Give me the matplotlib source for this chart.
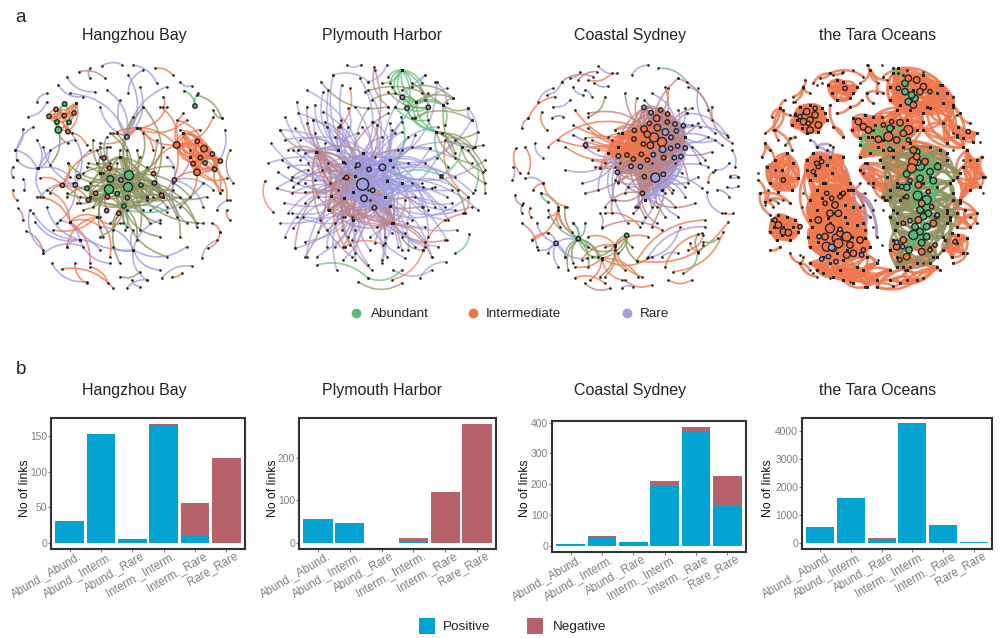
""" Two panel figure: co-occurrence networks (a) and link counts per sub-community pair (b).
    Network coordinates are read off the picture, in units of 1/3 pixel inside each 250 px panel.
"""
from itertools import combinations

import matplotlib
matplotlib.use('Agg')
import matplotlib.pyplot as plt
from matplotlib.patches import FancyArrowPatch
from matplotlib.transforms import ScaledTranslation

plt.rcParams['font.family'] = ['Liberation Sans', 'DejaVu Sans']

# ======================================================================================================================
sites = ['Hangzhou Bay', 'Plymouth Harbor', 'Coastal Sydney', 'the Tara Oceans']
pairs = ['Abund._Abund.', 'Abund._Interm.', 'Abund._Rare', 'Interm._Interm.', 'Interm._Rare', 'Rare_Rare']

hz_positive = [31, 152, 5, 165, 11, 0]
hz_negative = [0, 0, 0, 2, 45, 119]
pl_positive = [55, 45, 1, 4, 0, 0]
pl_negative = [2, 2, 0, 8, 119, 280]
cs_positive = [4, 28, 12, 193, 374, 130]
cs_negative = [1, 3, 0, 18, 12, 95]
ta_positive = [570, 1600, 160, 4270, 640, 30]
ta_negative = [0, 0, 10, 0, 0, 0]

# links: (kind, start, [ends]); kinds: aa, ai, ar, ii, ir, rr
# modules: (kind, [nodes]), groups of nodes that are all linked to each other
hz_links = [
    ('rr', (305, 48), [(365, 44)]), ('rr', (200, 80), [(285, 125)]), ('ir', (237, 65), [(315, 85)]),
    ('ir', (270, 55), [(270, 85)]), ('rr', (400, 45), [(470, 100)]), ('rr', (430, 60), [(385, 130)]),
    ('ii', (465, 55), [(518, 75)]), ('rr', (540, 97), [(575, 108)]), ('ir', (490, 140), [(490, 170)]),
    ('rr', (175, 105), [(250, 140)]), ('rr', (110, 155), [(140, 130)]), ('rr', (85, 200), [(140, 155)]),
    ('rr', (68, 238), [(45, 300)]), ('rr', (100, 230), [(50, 330)]), ('rr', (45, 300), [(110, 355)]),
    ('ir', (40, 350), [(38, 380)]), ('rr', (70, 388), [(72, 420)]), ('ii', (40, 420), [(50, 450)]),
    ('ir', (55, 475), [(68, 510)]), ('rr', (90, 480), [(130, 600)]), ('ir', (78, 543), [(130, 610)]),
    ('rr', (105, 515), [(240, 570)]), ('rr', (130, 610), [(250, 590)]), ('rr', (155, 640), [(260, 695)]),
    ('ii', (185, 657), [(340, 715)]), ('ii', (225, 640), [(260, 700)]), ('ii', (270, 650), [(325, 700)]),
    ('ai', (360, 680), [(420, 665)]), ('rr', (380, 715), [(440, 690)]), ('rr', (395, 690), [(420, 710)]),
    ('rr', (485, 685), [(575, 648)]), ('ii', (515, 680), [(545, 670)]), ('rr', (605, 625), [(650, 570)]),
    ('ii', (625, 595), [(660, 545)]), ('ii', (635, 520), [(660, 545)]), ('ii', (680, 480), [(690, 510)]),
    ('rr', (650, 480), [(690, 450)]), ('ir', (690, 300), [(700, 400)]), ('rr', (675, 240), [(640, 350)]),
    ('ai', (640, 180), [(665, 205)]), ('ai', (590, 135), [(665, 205)]), ('aa', (585, 168), [(552, 122), (595, 130)]),
    ('rr', (381, 261), [(385, 75), (360, 150), (420, 110), (300, 170), (210, 130), (500, 110), (320, 120)]),
    ('rr', (400, 600), [(480, 510), (300, 530), (210, 515), (440, 690), (340, 590), (560, 590), (400, 540), (480, 660)]),
    ('rr', (115, 355), [(50, 330), (130, 440), (210, 380), (110, 270), (225, 270), (150, 300)]),
    ('rr', (240, 570), [(140, 470), (200, 590), (300, 600), (180, 510), (100, 490), (330, 640)]),
    ('rr', (523, 390), [(610, 470), (560, 520), (640, 420), (500, 320), (450, 480), (570, 300)]),
    ('rr', (226, 405), [(130, 290), (120, 440), (170, 520), (215, 250), (270, 300)]),
    ('ii', (187, 406), [(150, 430), (330, 290), (120, 385), (240, 460), (205, 340), (265, 450)]),
    ('ii', (290, 500), [(200, 590), (330, 620), (210, 515), (160, 540), (360, 520)]),
    ('ii', (410, 235), [(340, 250), (500, 170), (300, 280), (560, 210), (460, 300)]),
    ('ii', (210, 515), [(140, 420), (300, 530), (110, 440), (270, 640)]),
    ('ii', (530, 285), [(480, 170), (420, 235), (350, 245), (550, 190), (460, 371), (600, 240), (640, 200), (485, 436)]),
    ('ii', (612, 296), [(540, 240), (660, 430), (530, 210)]),
    ('ii', (591, 367), [(660, 430), (520, 400), (540, 470), (680, 385)]),
    ('ii', (644, 358), [(680, 450), (665, 420)]),
    ('ii', (204, 245), [(260, 285)]),
    ('aa', (194, 162), [(171, 216), (207, 217), (175, 240)]),
    ('ai', (171, 216), [(147, 199), (222, 189), (193, 197), (204, 245)]),
    ('ai', (175, 240), [(168, 178), (229, 160), (150, 345), (205, 280)]),
    ('ai', (384, 411), [(300, 370), (290, 340), (320, 290), (350, 250), (430, 170), (470, 270), (520, 350), (540, 440),
                        (500, 470), (480, 520), (420, 540), (380, 530), (330, 520), (280, 470), (240, 440), (270, 400),
                        (590, 520), (440, 350), (460, 440), (430, 480), (300, 290), (410, 300)]),
    ('ai', (387, 376), [(290, 300), (330, 250), (400, 200), (490, 290), (570, 440), (610, 520), (530, 500), (440, 450),
                        (310, 370), (250, 370), (360, 300), (430, 250)]),
    ('ai', (327, 418), [(220, 400), (260, 350), (300, 320), (380, 300), (250, 480), (310, 560), (370, 520), (287, 430),
                        (265, 450), (322, 482), (356, 490), (200, 440), (230, 460), (300, 500)]),
    ('ai', (331, 387), [(236, 380), (265, 340), (280, 270), (350, 340), (312, 324), (420, 320), (205, 340)]),
    ('ai', (372, 468), [(480, 560), (410, 570), (360, 640), (300, 560), (340, 540), (450, 520), (500, 620)]),
    ('ai', (463, 399), [(480, 430), (620, 440), (590, 530), (520, 420), (540, 560), (430, 170)]),
    ('aa', (327, 418), [(384, 411), (261, 415), (200, 430), (352, 431), (331, 387)]),
    ('aa', (387, 376), [(331, 387), (384, 411), (423, 405)]),
    ('aa', (372, 468), [(384, 411), (382, 443), (375, 540)]),
    ('ar', (380, 480), [(610, 400), (500, 485)]),
    ('ar', (320, 260), [(330, 340)]),
]
hz_modules = [
    ('ii', [(530, 285), (612, 296), (592, 274), (601, 323), (579, 341), (591, 367), (637, 312), (661, 333), (644, 358),
            (550, 250), (570, 320)]),
    ('ii', [(168, 178), (147, 199), (193, 197), (222, 189), (204, 245), (229, 160)]),
    ('ai', [(384, 411), (387, 376), (327, 418), (331, 387), (372, 468), (423, 405), (463, 399), (300, 370), (440, 440),
            (490, 440), (360, 320), (270, 440)]),
]
hz_hubs = {
    'a': [(387, 376, 3), (384, 411, 3), (327, 418, 3), (331, 387, 2), (372, 468, 1), (261, 415, 1), (352, 431, 1),
          (423, 405, 1), (463, 399, 1), (382, 443, 1), (585, 168, 1), (194, 162, 1), (171, 216, 1), (207, 217, 1),
          (175, 240, 2), (615, 339, 1)],
    'i': [(168, 178, 1), (147, 199, 1), (193, 197, 1), (222, 189, 1), (204, 245, 1), (530, 285, 2), (612, 296, 2),
          (592, 274, 1), (601, 323, 1), (579, 341, 1), (591, 367, 2), (637, 312, 1), (661, 333, 1), (644, 358, 1),
          (328, 354, 1), (236, 380, 1), (187, 406, 1), (287, 430, 1), (265, 450, 1), (322, 440, 1), (320, 482, 1),
          (356, 490, 1), (461, 371, 1), (485, 436, 1), (312, 324, 1)],
    'r': [(363, 390, 1), (381, 261, 1), (226, 405, 1), (523, 390, 1)],
}

pl_links = [
    ('rr', (323, 403), [(125, 155), (155, 120), (220, 120), (300, 170), (340, 175), (405, 220), (470, 290), (525, 295),
                        (600, 380), (650, 470), (670, 480), (605, 540), (575, 570), (550, 590), (530, 622), (450, 625),
                        (380, 630), (340, 645), (290, 570), (245, 660), (185, 620), (155, 620), (120, 595), (90, 560),
                        (75, 520), (100, 490), (88, 458), (65, 415), (68, 365), (38, 340), (48, 280), (75, 240),
                        (90, 200), (130, 190), (180, 250), (240, 260), (258, 210), (360, 320), (460, 340), (410, 240)]),
    ('rr', (327, 445), [(175, 210), (205, 185), (280, 230), (350, 215), (440, 245), (545, 325), (575, 440), (510, 530),
                        (430, 590), (345, 600), (265, 630), (215, 590), (150, 575), (115, 535), (145, 500), (110, 430)]),
    ('rr', (382, 352), [(510, 75), (545, 95), (575, 115), (650, 210), (660, 290), (690, 330), (655, 430), (600, 480),
                        (520, 480), (470, 510), (390, 580), (300, 540), (190, 440), (135, 270), (115, 300), (220, 340)]),
    ('rr', (342, 358), [(260, 105), (340, 120), (420, 250), (500, 400), (580, 510), (410, 550), (260, 540), (130, 400),
                        (80, 330), (150, 310), (215, 230), (320, 230)]),
    ('rr', (358, 473), [(505, 410), (640, 440), (570, 470), (450, 550), (380, 640), (300, 610), (222, 480), (190, 545),
                        (125, 500), (240, 520)]),
    ('rr', (309, 345), [(235, 75), (315, 85), (380, 260), (460, 260), (600, 325), (530, 415), (270, 500), (180, 390),
                        (110, 380), (90, 270)]),
    ('rr', (405, 330), [(550, 230), (600, 270), (525, 295), (590, 420), (505, 470), (440, 300), (510, 340), (470, 400),
                        (560, 380), (480, 255), (440, 215), (355, 215)]),
    ('rr', (293, 425), [(160, 340), (130, 300), (110, 490), (150, 460), (200, 360), (195, 510), (240, 590), (265, 500),
                        (210, 280), (100, 350), (150, 400)]),
    ('rr', (440, 400), [(540, 410), (610, 420), (570, 510), (520, 560), (480, 590), (455, 520), (590, 460), (540, 470)]),
    ('rr', (405, 468), [(300, 630), (345, 560), (395, 620), (460, 600), (280, 560), (365, 530), (510, 590)]),
    ('rr', (250, 300), [(180, 165), (175, 210), (205, 125), (255, 225), (310, 250), (135, 330), (120, 235), (280, 175)]),
    ('ir', (300, 377), [(155, 220), (210, 215), (250, 230), (365, 225), (430, 300), (480, 440), (390, 560), (285, 585),
                        (215, 540), (115, 410), (150, 425), (185, 305)]),
    ('ir', (273, 380), [(155, 170), (360, 60), (400, 190), (500, 470), (440, 600), (350, 660), (265, 590), (120, 595),
                        (65, 415), (130, 300)]),
    ('ir', (410, 520), [(300, 350), (450, 450), (510, 575), (570, 570), (530, 622), (360, 580), (290, 500), (345, 450),
                        (250, 420), (225, 400)]),
    ('ir', (184, 305), [(75, 240), (100, 300), (270, 340), (340, 420), (220, 480), (290, 620), (150, 620)]),
    ('rr', (275, 45), [(318, 44)]), ('rr', (235, 75), [(340, 95)]), ('ir', (358, 50), [(400, 170)]),
    ('rr', (395, 45), [(340, 95)]), ('rr', (510, 75), [(500, 130)]), ('rr', (540, 95), [(575, 160)]),
    ('rr', (640, 175), [(650, 210), (660, 290)]), ('rr', (415, 660), [(530, 660)]), ('rr', (495, 683), [(572, 635)]),
    ('ii', (30, 392), [(53, 485)]), ('ii', (285, 115), [(255, 230)]), ('ii', (630, 490), [(505, 600)]),
    ('ii', (505, 600), [(410, 690)]), ('ii', (570, 270), [(640, 440)]), ('ii', (640, 440), [(625, 490)]),
    ('ii', (265, 385), [(270, 590)]), ('ii', (270, 590), [(385, 585)]),
    ('aa', (380, 100), [(440, 60)]), ('aa', (400, 80), [(440, 60)]),
    ('aa', (440, 60), [(483, 155), (470, 110), (420, 130), (510, 150), (442, 142), (456, 175), (405, 100), (500, 100)]),
    ('aa', (442, 142), [(543, 245), (483, 155), (520, 172), (480, 205)]),
    ('aa', (483, 155), [(543, 245), (565, 165), (456, 175), (410, 110)]),
    ('aa', (456, 175), [(543, 245), (565, 165), (520, 172), (420, 170)]),
    ('aa', (420, 170), [(520, 210)]), ('aa', (520, 172), [(480, 205), (543, 245)]), ('aa', (565, 165), [(570, 225)]),
    ('aa', (543, 245), [(580, 350)]), ('aa', (620, 290), [(560, 375)]), ('aa', (600, 610), [(643, 553)]),
    ('aa', (185, 645), [(340, 685)]), ('aa', (340, 685), [(440, 660)]), ('aa', (395, 390), [(555, 375)]),
    ('aa', (660, 420), [(640, 300)]), ('aa', (438, 200), [(415, 350)]),
    ('ai', (197, 95), [(400, 170)]), ('ai', (330, 125), [(565, 165)]), ('ai', (595, 145), [(440, 120)]),
    ('ai', (543, 245), [(690, 360), (670, 245), (620, 290), (650, 340), (600, 310)]),
    ('ai', (560, 250), [(685, 285), (655, 295)]), ('ai', (565, 165), [(690, 400), (595, 145), (640, 175)]),
    ('ai', (620, 290), [(690, 430), (685, 365)]), ('ai', (555, 380), [(630, 490)]), ('ai', (310, 695), [(440, 700)]),
    ('ai', (108, 390), [(160, 360)]), ('ai', (440, 560), [(505, 600)]), ('ai', (470, 205), [(650, 210)]),
    ('ai', (483, 155), [(520, 130), (595, 145), (350, 150)]), ('ai', (520, 172), [(400, 125), (470, 100)]),
]
pl_modules = [
    ('ir', [(184, 305), (273, 380), (300, 377), (228, 437), (222, 480), (295, 510), (415, 520), (390, 440), (358, 473),
            (325, 310), (268, 443)]),
    ('rr', [(265, 335), (325, 310), (405, 330), (440, 400), (405, 468), (358, 473), (293, 425), (268, 443), (342, 358),
            (382, 352), (309, 345), (327, 445), (353, 421), (395, 393)]),
]
pl_hubs = {
    'a': [],
    'i': [(273, 380, 1)],
    'r': [(323, 403, 4), (327, 445, 2), (382, 352, 2), (342, 358, 1), (309, 345, 1), (358, 473, 1), (353, 421, 1),
          (442, 142, 1), (456, 175, 1), (520, 172, 1)],
}

cs_links = [
    ('ar', (460, 55), [(545, 95)]), ('ar', (268, 98), [(310, 108)]), ('ar', (108, 430), [(160, 470)]),
    ('ar', (535, 670), [(578, 610)]), ('ar', (205, 520), [(220, 566)]),
    ('rr', (280, 48), [(335, 70)]), ('rr', (380, 75), [(430, 45)]), ('rr', (195, 85), [(225, 65)]),
    ('ir', (220, 90), [(275, 65)]), ('ii', (250, 90), [(320, 70)]), ('ir', (170, 95), [(265, 80)]),
    ('rr', (125, 135), [(170, 95)]), ('ii', (70, 205), [(150, 140)]), ('ii', (110, 185), [(125, 240)]),
    ('rr', (100, 155), [(145, 115)]), ('rr', (145, 170), [(195, 150)]), ('ir', (50, 235), [(70, 205)]),
    ('rr', (205, 112), [(235, 135)]), ('rr', (240, 120), [(260, 140)]), ('ai', (250, 200), [(300, 140)]),
    ('ai', (140, 205), [(175, 200)]), ('ii', (32, 295), [(45, 370)]), ('ii', (60, 290), [(70, 370)]),
    ('rr', (90, 280), [(115, 325)]), ('rr', (25, 350), [(22, 390)]), ('ir', (30, 435), [(50, 465)]),
    ('ai', (50, 488), [(55, 460)]), ('ii', (75, 475), [(78, 500)]), ('ir', (50, 520), [(95, 590)]),
    ('rr', (115, 400), [(60, 385)]), ('ii', (85, 420), [(115, 400)]), ('ii', (115, 400), [(185, 470)]),
    ('ii', (80, 570), [(130, 550)]), ('rr', (675, 380), [(700, 380)]), ('ii', (675, 378), [(700, 380)]),
    ('rr', (665, 410), [(700, 408)]), ('ir', (635, 420), [(672, 440)]), ('ii', (660, 488), [(685, 490)]),
    ('ii', (610, 395), [(625, 365)]), ('rr', (605, 425), [(650, 490)]), ('rr', (680, 300), [(690, 350)]),
    ('rr', (630, 360), [(672, 340)]), ('rr', (550, 110), [(610, 180)]), ('rr', (580, 115), [(630, 250)]),
    ('ir', (520, 85), [(620, 210)]), ('ir', (620, 170), [(682, 280)]), ('rr', (545, 190), [(665, 255)]),
    ('ii', (490, 690), [(560, 690)]), ('rr', (352, 713), [(383, 710)]), ('ir', (240, 700), [(315, 715)]),
    ('ii', (210, 683), [(300, 700)]), ('ii', (360, 690), [(440, 705)]),
    ('ii', (395, 632), [(600, 510), (670, 515)]), ('ii', (480, 650), [(590, 550)]), ('rr', (425, 625), [(525, 530)]),
    ('rr', (430, 620), [(600, 530)]), ('ii', (505, 665), [(655, 545)]), ('rr', (470, 620), [(520, 610)]),
    ('ii', (550, 600), [(595, 555)]), ('ii', (578, 605), [(555, 580)]), ('ai', (578, 605), [(595, 585), (578, 553)]),
    ('aa', (595, 575), [(640, 565)]), ('ir', (290, 535), [(470, 540)]), ('rr', (290, 530), [(285, 490)]),
    ('ii', (300, 490), [(405, 530)]),
    ('ir', (447, 262), [(418, 150), (520, 85), (580, 220), (600, 330), (505, 420), (440, 530), (320, 490), (240, 430),
                        (285, 355), (205, 255), (250, 190), (360, 130), (480, 110)]),
    ('ir', (471, 276), [(560, 175), (620, 305), (550, 400), (480, 500), (390, 470), (340, 395), (260, 330), (330, 240)]),
    ('ii', (417, 237), [(395, 145), (330, 240), (240, 290), (285, 355), (205, 225), (490, 115), (160, 270), (130, 290)]),
    ('ii', (436, 286), [(285, 355), (340, 290), (250, 235), (412, 430), (209, 180), (310, 310)]),
    ('ii', (387, 267), [(340, 250), (310, 260), (260, 270), (345, 340), (280, 300), (330, 350)]),
    ('ii', (366, 315), [(320, 270), (300, 340), (270, 350), (240, 265), (180, 290)]),
    ('ir', (418, 380), [(340, 400), (500, 430), (455, 470), (395, 470), (360, 430), (540, 410), (420, 500)]),
    ('ir', (412, 430), [(385, 490), (455, 520), (330, 450), (300, 470), (510, 470), (570, 460)]),
    ('rr', (451, 383), [(370, 410), (440, 470), (540, 440), (580, 380), (610, 350), (520, 500), (410, 520), (480, 430),
                        (330, 390), (510, 340), (590, 415), (400, 470)]),
    ('rr', (498, 262), [(545, 190), (610, 260), (585, 340), (530, 370), (650, 285), (520, 180), (560, 290), (440, 340)]),
    ('rr', (514, 243), [(560, 225), (630, 270), (670, 260), (540, 175), (585, 230), (440, 130)]),
    ('rr', (340, 318), [(240, 290), (280, 420), (230, 400), (320, 450), (180, 360), (370, 520)]),
    ('rr', (153, 580), [(95, 520), (130, 610), (100, 600), (160, 650), (180, 620), (130, 550), (215, 570), (245, 625)]),
    ('ar', (220, 566), [(130, 480), (205, 520), (290, 630), (240, 520), (160, 470), (180, 620)]),
    ('ai', (220, 566), [(180, 470), (190, 660), (280, 620), (330, 600), (250, 650), (205, 640)]),
    ('ai', (365, 556), [(290, 625), (330, 590), (300, 590), (395, 632), (340, 610), (380, 590)]),
    ('ai', (330, 585), [(260, 620), (360, 660), (285, 680)]),
    ('ii', (330, 585), [(230, 630), (430, 560), (410, 680), (300, 680), (250, 560)]),
    ('ii', (160, 480), [(130, 500), (165, 530), (80, 570), (200, 545)]),
    ('ii', (290, 625), [(210, 650), (350, 690), (400, 680), (440, 620), (255, 690)]),
    ('aa', (220, 566), [(290, 628), (250, 590)]), ('aa', (108, 430), [(130, 455)]),
]
cs_modules = [
    ('rr', [(498, 262), (473, 298), (514, 243), (510, 222), (518, 288), (497, 295), (508, 323), (528, 320), (541, 294),
            (535, 227), (481, 246), (475, 373), (451, 383), (470, 420), (420, 450)]),
    ('ir', [(447, 262), (471, 276), (455, 205), (417, 172), (438, 188), (467, 180), (488, 192), (510, 222), (445, 314),
            (476, 323), (427, 330), (418, 380), (451, 383), (412, 430), (378, 349), (406, 350), (337, 367), (340, 318),
            (508, 323), (540, 260)]),
    ('ii', [(447, 262), (417, 237), (457, 233), (436, 286), (427, 253), (415, 282), (388, 241), (387, 267), (409, 313),
            (385, 327), (366, 315), (427, 330), (340, 290), (350, 250), (310, 310)]),
]
cs_hubs = {
    'a': [(220, 566, 1), (365, 556, 1)],
    'i': [(447, 262, 3), (471, 276, 3), (417, 237, 2), (457, 233, 2), (455, 205, 2), (436, 286, 2), (427, 253, 2),
          (415, 282, 1), (388, 241, 1), (387, 267, 1), (433, 220, 1), (487, 216, 1), (488, 192, 1), (467, 180, 1),
          (409, 313, 1), (427, 330, 1), (476, 323, 1), (385, 327, 1), (418, 380, 1), (412, 430, 1), (366, 315, 1)],
    'r': [(451, 383, 3), (473, 298, 2), (498, 262, 1), (481, 246, 2), (514, 243, 1), (510, 222, 1), (518, 288, 1),
          (497, 295, 1), (445, 314, 1), (508, 323, 1), (528, 320, 1), (340, 318, 1), (378, 349, 1), (406, 350, 1),
          (337, 367, 1), (417, 172, 1), (438, 188, 1), (541, 294, 1), (535, 227, 1), (475, 373, 1), (153, 580, 1),
          (242, 285, 1)],
}

ta_links = [
    ('ii', (310, 420), [(345, 540), (360, 500), (380, 560), (330, 470)]),
    ('ii', (45, 455), [(70, 470), (25, 390), (100, 450), (55, 420)]),
    ('ii', (160, 110), [(135, 155), (180, 130), (130, 140), (165, 90)]),
    ('ii', (360, 60), [(330, 100), (385, 100), (355, 45), (410, 90), (380, 130)]),
    ('ii', (90, 175), [(120, 195), (105, 150), (65, 200), (45, 250), (85, 270)]),
    ('ii', (240, 70), [(210, 85), (280, 65), (340, 80), (190, 100)]),
    ('ii', (150, 640), [(120, 610), (200, 680), (180, 660), (160, 620)]),
    ('ii', (45, 280), [(35, 320), (60, 300), (75, 360)]), ('ii', (75, 240), [(100, 180), (125, 300)]),
    ('ii', (30, 430), [(60, 495), (120, 460)]), ('ii', (695, 320), [(705, 380), (660, 330)]),
    ('ii', (280, 260), [(250, 230), (240, 165)]), ('ii', (300, 170), [(335, 150), (260, 190)]),
    ('ii', (350, 130), [(370, 160), (400, 130)]), ('ii', (60, 600), [(90, 590)]), ('ii', (660, 500), [(680, 520)]),
    ('ii', (470, 690), [(520, 685), (570, 660)]), ('ii', (610, 640), [(650, 610)]), ('ii', (345, 712), [(430, 708)]),
    ('ii', (630, 190), [(660, 220), (610, 140)]), ('ii', (570, 105), [(610, 140)]), ('ii', (400, 80), [(470, 60)]),
    ('ir', (300, 420), [(345, 430), (370, 480), (330, 400), (250, 290), (230, 300)]),
    ('rr', (310, 420), [(345, 540), (360, 500), (380, 560), (330, 470)]),
    ('rr', (200, 290), [(240, 320), (180, 270), (240, 285)]),
    ('rr', (345, 340), [(370, 410), (355, 400), (340, 370)]),
    ('ai', (120, 265), [(105, 285), (135, 260)]), ('ai', (60, 450), [(85, 460)]), ('ai', (620, 195), [(610, 250)]),
    ('ai', (480, 650), [(520, 640), (465, 660)]),
    ('ar', (395, 440), [(420, 420), (410, 450)]),
]
ta_modules = [
    ('ii', [(490, 120), (430, 70), (445, 55), (520, 75), (575, 105), (590, 130), (540, 175), (610, 165), (420, 110),
            (480, 180), (520, 190), (580, 160), (420, 150), (450, 165)]),
    ('ii', [(180, 210), (135, 195), (150, 170), (215, 175), (230, 210), (205, 245), (155, 235), (125, 225), (180, 165),
            (140, 210), (225, 190), (170, 250), (200, 215), (160, 190)]),
    ('ii', [(285, 115), (235, 105), (260, 90), (320, 110), (300, 145), (260, 150), (280, 95), (310, 130), (245, 130)]),
    ('ii', [(340, 230), (310, 205), (345, 195), (375, 225), (365, 260), (330, 265), (305, 240), (395, 200), (420, 250)]),
    ('ii', [(430, 230), (370, 200), (480, 180), (500, 240), (460, 290), (385, 290), (355, 260), (470, 210), (400, 270),
            (440, 180), (520, 215), (360, 310), (330, 320)]),
    ('ii', [(100, 390), (50, 350), (75, 330), (130, 340), (145, 385), (125, 420), (85, 425), (60, 400), (110, 310),
            (95, 360)]),
    ('ii', [(205, 350), (170, 330), (190, 310), (240, 320), (245, 370), (220, 400), (180, 390), (170, 360), (280, 320),
            (300, 400), (210, 320), (230, 345), (195, 375)]),
    ('ii', [(170, 360), (220, 400), (180, 450), (200, 480), (300, 400), (310, 470), (180, 510), (185, 530), (290, 520),
            (345, 565), (340, 520)]),
    ('ii', [(255, 460), (200, 420), (225, 400), (295, 420), (310, 470), (285, 500), (235, 505), (200, 480), (180, 450),
            (215, 445), (270, 430), (285, 465), (250, 490), (180, 510), (340, 520)]),
    ('ii', [(250, 570), (185, 530), (210, 510), (290, 520), (345, 565), (330, 610), (280, 630), (220, 620), (180, 590),
            (175, 560), (240, 520), (360, 590), (305, 560), (260, 610), (205, 575), (320, 525)]),
    ('ii', [(290, 600), (200, 660), (250, 680), (340, 660), (380, 640), (310, 700), (240, 640), (350, 620), (180, 640)]),
    ('ii', [(320, 650), (280, 690), (350, 710), (420, 660), (270, 660), (380, 690), (220, 670)]),
    ('ii', [(100, 530), (65, 510), (85, 495), (135, 510), (145, 545), (120, 570), (80, 570), (60, 545), (110, 500),
            (95, 555), (130, 530), (72, 530)]),
    ('ii', [(620, 580), (585, 570), (605, 550), (650, 565), (640, 610), (605, 620), (580, 600), (625, 555)]),
    ('ii', [(655, 245), (625, 230), (680, 250), (670, 275), (640, 265), (620, 255)]),
    ('ii', [(480, 340), (430, 300), (400, 350), (540, 290), (560, 350), (520, 400), (440, 400), (590, 310), (400, 300),
            (480, 280)]),
    ('ii', [(480, 590), (430, 570), (440, 620), (550, 620), (500, 640), (460, 650), (540, 590), (420, 600)]),
    ('ii', [(440, 410), (370, 400), (350, 340), (410, 380), (480, 400), (460, 440), (405, 450), (330, 360)]),
    ('ii', [(580, 220), (560, 130), (610, 170), (620, 260), (520, 240), (590, 280), (640, 290), (530, 170)]),
    ('ii', [(680, 330), (650, 300), (700, 380), (660, 420), (620, 380), (640, 350), (690, 410), (630, 450)]),
    ('ii', [(645, 480), (610, 450), (590, 490), (680, 490), (660, 530), (620, 530)]),
    ('ii', [(420, 690), (470, 660), (500, 690), (380, 710), (450, 700), (560, 650)]),
    ('ai', [(510, 350), (430, 320), (590, 330), (610, 390), (420, 440), (630, 370), (390, 330), (570, 300)]),
    ('ai', [(510, 445), (420, 420), (610, 430), (590, 480), (440, 490), (630, 460), (400, 440), (600, 400)]),
    ('ai', [(490, 555), (435, 540), (590, 520), (560, 620), (440, 650), (600, 500), (420, 500), (540, 640)]),
    ('ai', [(525, 490), (440, 520), (600, 510), (450, 450), (620, 490), (580, 560), (430, 480)]),
    ('aa', [(420, 235), (370, 240), (470, 240), (420, 300), (330, 285)]),
    ('aa', [(510, 350), (500, 305), (470, 370), (540, 380), (560, 340), (510, 385)]),
    ('aa', [(515, 440), (530, 450), (470, 410), (510, 385), (560, 410), (520, 480)]),
    ('aa', [(490, 555), (515, 578), (475, 600), (530, 530), (510, 500)]),
    ('aa', [(430, 55), (460, 75), (445, 70)]),
]
ta_leaves = [
    (350, 45), (395, 45), (250, 75), (200, 105), (160, 115), (130, 155), (100, 180), (70, 240), (45, 280), (35, 320),
    (25, 370), (30, 430), (45, 465), (60, 495), (150, 615), (190, 670), (240, 685), (300, 695), (345, 712), (430, 708),
    (470, 690), (520, 685), (570, 660), (610, 640), (650, 610), (680, 520), (700, 430), (705, 380), (695, 320),
    (690, 275), (660, 220), (630, 190), (610, 140), (570, 105), (520, 65), (470, 60), (400, 80), (310, 60), (275, 70),
    (215, 100), (135, 190), (60, 300), (75, 360), (125, 300), (280, 260), (250, 230), (300, 170), (335, 150), (350, 130),
    (370, 160), (400, 130), (240, 165), (260, 190), (120, 460), (155, 470), (160, 430), (60, 600), (90, 590), (660, 500),
    (640, 330), (610, 300), (400, 480), (370, 530), (395, 585), (385, 630), (375, 450), (340, 465),
]
ta_hubs = {
    'a': [(475, 155, 2), (465, 100, 2), (495, 145, 2), (485, 135, 2), (465, 125, 2), (420, 235, 2), (420, 298, 1),
          (510, 348, 3), (500, 305, 2), (470, 372, 2), (540, 365, 2), (563, 350, 2), (510, 385, 2), (550, 392, 2),
          (530, 450, 3), (503, 437, 3), (470, 412, 2), (510, 480, 2), (535, 490, 2), (520, 500, 2), (490, 555, 3),
          (515, 578, 2), (477, 600, 2), (530, 530, 2), (510, 545, 2), (530, 560, 2), (495, 530, 2), (455, 410, 1),
          (560, 500, 1), (475, 270, 1), (503, 337, 2)],
    'i': [(490, 165, 2), (500, 90, 2), (520, 110, 2), (475, 85, 2), (540, 125, 1), (510, 125, 2), (180, 210, 2),
          (170, 185, 2), (195, 195, 2), (160, 215, 2), (180, 240, 2), (205, 225, 2), (150, 200, 1), (285, 115, 1),
          (340, 230, 2), (325, 215, 2), (355, 240, 2), (475, 240, 3), (415, 260, 3), (450, 218, 2), (385, 268, 2),
          (490, 335, 3), (485, 355, 3), (525, 335, 2), (500, 320, 2), (505, 405, 2), (490, 300, 2), (515, 460, 2),
          (505, 510, 2), (550, 520, 2), (515, 605, 2), (460, 570, 2), (240, 535, 3), (260, 565, 3), (230, 590, 3),
          (225, 560, 2), (250, 595, 2), (270, 550, 2), (290, 560, 3), (300, 585, 2), (265, 580, 3), (240, 490, 2),
          (255, 465, 2), (270, 440, 1), (245, 445, 1), (205, 350, 1), (215, 335, 1), (190, 365, 1), (205, 510, 2),
          (290, 615, 2), (310, 610, 2), (330, 570, 2), (100, 545, 2), (115, 548, 2), (85, 525, 2), (100, 390, 1),
          (615, 575, 1), (655, 245, 1), (440, 590, 2), (470, 620, 2), (450, 630, 1), (340, 600, 1), (225, 460, 1),
          (280, 430, 1), (265, 490, 2), (200, 340, 1), (230, 430, 1), (175, 220, 1), (195, 175, 1), (440, 270, 2),
          (460, 250, 2), (400, 225, 1), (425, 215, 1), (535, 425, 1), (545, 470, 1), (470, 440, 1), (460, 520, 1),
          (150, 530, 1), (75, 510, 1), (540, 600, 1), (555, 585, 1)],
    'r': [(445, 115, 1), (245, 592, 2), (207, 560, 1), (215, 627, 1), (235, 620, 1), (258, 635, 1), (270, 538, 1),
          (335, 615, 1), (440, 577, 1), (458, 590, 1), (480, 392, 1), (480, 512, 1), (562, 495, 1)],
}

c_positive = '#00a3d2'
c_negative = '#b5626a'
c_hub = {'a': '#54bc74', 'i': '#f0744a', 'r': '#a29edd'}
c_link = {'aa': '#57bd72', 'ai': '#8f9160', 'ar': '#6fae9d', 'ii': '#f0784e', 'ir': '#bb8488', 'rr': '#a09cdf'}
hub_area = {1: 10, 2: 22, 3: 42, 4: 72}


# ======================================================================================================================
def px_axes(fig, x0, y0, w, h):

    """ Axes placed by its pixel box in the 1000x638 picture.
    """

    return fig.add_axes([x0 / 1000, 1 - (y0 + h) / 638, w / 1000, h / 638])


# ======================================================================================================================
def draw_network(fig, x0, links, modules, hubs, leaves=(), lw=1.2, alpha=0.8):

    """ One network panel: curved links, tiny end nodes, then the ringed hubs on top.
    """

    ax = px_axes(fig, x0, 50, 250, 250)
    ax.set_xlim(0, 750)
    ax.set_ylim(750, 0)
    ax.axis('off')

    segments = [(kind, start, end) for kind, start, ends in links for end in ends]
    for kind, nodes in modules:
        segments += [(kind, p, q) for p, q in combinations(nodes, 2)]

    dots = list(leaves)
    for k, (kind, start, end) in enumerate(segments):
        dots += [start, end]
        rad = 0.32 if k % 2 else -0.28
        ax.add_patch(FancyArrowPatch(start, end, arrowstyle='-', connectionstyle=f'arc3,rad={rad}',
                                     color=c_link[kind], lw=lw, alpha=alpha, shrinkA=0, shrinkB=0, zorder=1))

    ax.scatter([p[0] for p in dots], [p[1] for p in dots], s=3.5, c='#222222', linewidths=0, zorder=2)
    for cls, pts in hubs.items():
        ax.scatter([p[0] for p in pts], [p[1] for p in pts], s=[hub_area[p[2]] for p in pts], c=c_hub[cls],
                   edgecolors='#222222', linewidths=1.0, zorder=3)


# ======================================================================================================================
def draw_bars(fig, box, pos, neg, yticks, ylim):

    """ Stacked bars of positive and negative links for one site.
    """

    ax = px_axes(fig, *box)
    x = range(len(pairs))
    ax.bar(x, pos, width=0.92, color=c_positive, linewidth=0)
    ax.bar(x, neg, bottom=pos, width=0.92, color=c_negative, linewidth=0)
    ax.set_xlim(-0.6, 5.6)
    ax.set_ylim(*ylim)
    ax.set_yticks(yticks)
    ax.set_xticks(list(x))
    ax.set_xticklabels(pairs, rotation=30, ha='right', rotation_mode='anchor')
    ax.tick_params(axis='y', labelsize=7.4, colors='#7f7f7f', length=2, width=0.8, pad=0.8)
    ax.tick_params(axis='x', labelsize=8.3, colors='#7f7f7f', length=2, width=0.8, pad=3)
    shift = ScaledTranslation(0.08, 0.06, fig.dpi_scale_trans)
    for lab in ax.get_xticklabels():
        lab.set_transform(lab.get_transform() + shift)
    for s in ax.spines.values():
        s.set_linewidth(1.5)
        s.set_color('#333333')


# ======================================================================================================================
fig = plt.figure(figsize=(10, 6.38), dpi=100)

draw_network(fig, 0, hz_links, hz_modules, hz_hubs)
draw_network(fig, 255, pl_links, pl_modules, pl_hubs, alpha=0.7)
draw_network(fig, 505, cs_links, cs_modules, cs_hubs)
draw_network(fig, 750, ta_links, ta_modules, ta_hubs, leaves=ta_leaves, lw=1.9, alpha=0.85)

draw_bars(fig, (51, 418, 194, 131), hz_positive, hz_negative, [0, 50, 100, 150], (-8.4, 175))
draw_bars(fig, (299, 418, 197, 131), pl_positive, pl_negative, [0, 100, 200], (-14, 293))
draw_bars(fig, (552, 421, 194, 131), cs_positive, cs_negative, [0, 100, 200, 300, 400], (-20.6, 405))
draw_bars(fig, (802, 418, 190, 131), ta_positive, ta_negative, [0, 1000, 2000, 3000, 4000], (-215, 4466))

# text and legends on a transparent overlay in picture pixels
top = fig.add_axes([0, 0, 1, 1], zorder=5)
top.set_xlim(0, 1000)
top.set_ylim(638, 0)
top.axis('off')
top.patch.set_alpha(0)

top.text(21, 18, 'a', fontsize=13.5, ha='center', va='center', color='#222222')
top.text(21, 369, 'b', fontsize=13.5, ha='center', va='center', color='#222222')

for name, xc in zip(sites, [134, 382, 630, 878]):
    top.text(xc, 35.5, name, fontsize=11.5, ha='center', va='center', color='#222222')
    top.text(xc, 390.5, name, fontsize=11.5, ha='center', va='center', color='#222222')

for xl in [25, 273, 525, 768]:
    top.text(xl, 488, 'No of links', fontsize=8.8, rotation=90, ha='center', va='center', color='#111111')

for xm, xt, cls, name in [(356, 371, 'a', 'Abundant'), (473, 486, 'i', 'Intermediate'), (627, 640, 'r', 'Rare')]:
    top.scatter([xm], [313], s=50, c=c_hub[cls], linewidths=0)
    top.text(xt, 314, name, fontsize=9.7, va='center', color='#222222')

for xs, xt, col, name in [(419, 443, c_positive, 'Positive'), (527, 553, c_negative, 'Negative')]:
    top.fill_between([xs, xs + 16], 618, 634, color=col, linewidth=0)
    top.text(xt, 627, name, fontsize=9.7, va='center', color='#222222')

fig.savefig('out.png', dpi=100)
